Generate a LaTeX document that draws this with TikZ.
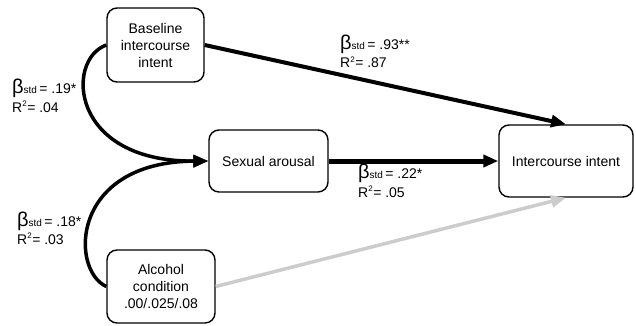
\documentclass[tikz,border=0pt]{standalone}
\usepackage{fontspec}
\setmainfont{Liberation Sans}
\usetikzlibrary{arrows.meta}
\newcommand\bst[1]{{\fontsize{20}{20}\selectfont β}{\fontsize{10}{10}\selectfont std}\,= #1}
\newcommand\rsq[1]{R\textsuperscript{\fontsize{8}{8}\selectfont 2}= #1}
\begin{document}
\begin{tikzpicture}[x=1pt,y=-1pt,
  box/.style={draw=black,line width=1.4pt,rounded corners=10pt,align=center,inner sep=0pt,
    font=\fontsize{14}{17}\selectfont},
  lab/.style={anchor=base west,inner sep=0pt,font=\fontsize{14}{14}\selectfont},
  arr/.style={line width=4pt,-{Triangle[length=15pt,width=12pt]}},
  curv/.style={line width=3.5pt,-{Triangle[length=15pt,width=12pt]}}]
\useasboundingbox (0,0) rectangle (636,326);
\node[box,minimum width=97pt,minimum height=74pt] (base) at (155.5,45) {Baseline\\intercourse\\intent};
\node[box,minimum width=119pt,minimum height=62pt] (arousal) at (268.5,161) {Sexual arousal};
\node[box,minimum width=134pt,minimum height=72pt] (intent) at (566,161) {Intercourse intent};
\node[box,minimum width=108pt,minimum height=73pt] (alcohol) at (161,286.5) {Alcohol\\condition\\.00/.025/.08};
\draw[arr] (base.east) -- (intent.north);
\draw[arr,line width=5pt] (arousal.east) -- (intent.west);
\draw[curv] (base.west) .. controls (65,60) and (70,162) .. (arousal.west);
\draw[curv] (alcohol.west) .. controls (70,270) and (70,162) .. (arousal.west);
\draw[line width=3.5pt,color=black!20,-{Triangle[length=15pt,width=12pt]}] (alcohol.east) -- (intent.south);
\node[lab] (l1a) at (12,94) {\bst{.19*}};
\node[lab] (l1b) at (12,112) {\rsq{.04}};
\node[lab] (l2a) at (340,50) {\bst{.93**}};
\node[lab] (l2b) at (340,68) {\rsq{.87}};
\node[lab] (l3a) at (358,178) {\bst{.22*}};
\node[lab] (l3b) at (358,197) {\rsq{.05}};
\node[lab] (l4a) at (17,226) {\bst{.18*}};
\node[lab] (l4b) at (17,244) {\rsq{.03}};
\end{tikzpicture}
\end{document}
